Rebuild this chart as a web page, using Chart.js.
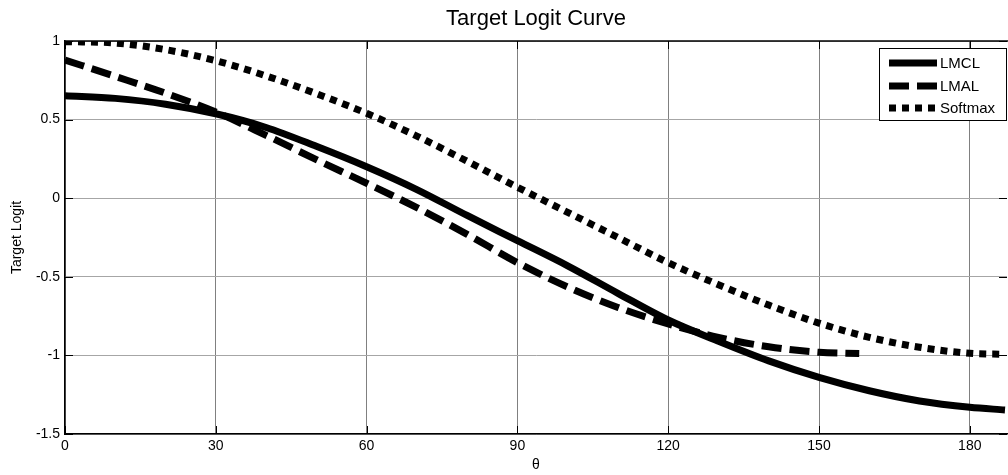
<!DOCTYPE html>
<html>
<head>
<meta charset="utf-8">
<script src="https://cdn.jsdelivr.net/npm/chart.js@4.4.1/dist/chart.umd.min.js"></script>
<style>
  html, body { margin: 0; padding: 0; background: #fff; }
  #wrap { width: 1008px; height: 475px; }
</style>
</head>
<body>
<div id="wrap"><canvas id="chart" width="1008" height="475"></canvas></div>
<script>
// values
const thetaMain = [0, 10, 20, 30, 40, 50, 60, 70, 80, 90, 100, 110, 120, 130, 140, 150, 160, 170, 180, 187];
const lmclValues = [0.652, 0.635, 0.598, 0.537, 0.45, 0.33, 0.2, 0.055, -0.11, -0.27, -0.43, -0.605, -0.775, -0.91, -1.035, -1.14, -1.225, -1.29, -1.33, -1.347];
const softmaxValues = [0.996, 0.987, 0.945, 0.875, 0.778, 0.665, 0.54, 0.395, 0.235, 0.07, -0.09, -0.25, -0.41, -0.55, -0.68, -0.795, -0.885, -0.948, -0.987, -0.993];
const thetaLmal = [0, 10, 20, 30, 40, 50, 60, 70, 80, 90, 100, 110, 120, 130, 140, 150, 158];
const lmalValues = [0.879, 0.775, 0.668, 0.548, 0.4, 0.245, 0.095, -0.06, -0.23, -0.41, -0.565, -0.695, -0.8, -0.885, -0.945, -0.98, -0.988];

const xTicks = [0, 30, 60, 90, 120, 150, 180];
const yTicks = [-1.5, -1, -0.5, 0, 0.5, 1];

const FONT = 'Liberation Sans, Arial, Helvetica, sans-serif';

function points(xs, ys) {
  return xs.map((x, i) => ({ x: x, y: ys[i] }));
}

const framePlugin = {
  id: 'frame',
  afterDraw(chart) {
    const { ctx, chartArea: a, scales: { x, y } } = chart;
    ctx.save();
    ctx.strokeStyle = '#000';
    ctx.lineWidth = 1.5;
    ctx.beginPath();
    ctx.moveTo(a.left, a.top);
    ctx.lineTo(chart.width, a.top);
    ctx.stroke();

    // inward tick marks
    ctx.lineWidth = 1;
    ctx.beginPath();
    x.ticks.forEach(t => {
      const px = Math.round(x.getPixelForValue(t.value)) + 0.5;
      ctx.moveTo(px, a.bottom); ctx.lineTo(px, a.bottom - 8);
      ctx.moveTo(px, a.top); ctx.lineTo(px, a.top + 8);
    });
    y.ticks.forEach(t => {
      const py = Math.round(y.getPixelForValue(t.value)) + 0.5;
      ctx.moveTo(a.left, py); ctx.lineTo(a.left + 8, py);
      ctx.moveTo(a.right, py); ctx.lineTo(a.right - 8, py);
    });
    ctx.stroke();

    // legend box
    const bx = 879, by = 48, bw = 127, bh = 72;
    ctx.fillStyle = '#fff';
    ctx.fillRect(bx, by, bw, bh);
    ctx.strokeRect(bx + 0.5, by + 0.5, bw, bh);
    const rows = [63, 86, 108];
    chart.data.datasets.forEach((ds, i) => {
      ctx.beginPath();
      ctx.lineWidth = ds.borderWidth;
      ctx.setLineDash(ds.borderDash || []);
      ctx.moveTo(889, rows[i]);
      ctx.lineTo(937, rows[i]);
      ctx.stroke();
      ctx.setLineDash([]);
      ctx.fillStyle = '#000';
      ctx.font = '15px ' + FONT;
      ctx.textBaseline = 'middle';
      ctx.fillText(ds.label, 940, rows[i] + 1);
    });
    ctx.restore();
  }
};

new Chart(document.getElementById('chart'), {
  type: 'line',
  data: {
    datasets: [
      {
        label: 'LMCL',
        data: points(thetaMain, lmclValues),
        borderColor: '#000',
        borderWidth: 7,
        pointRadius: 0,
        cubicInterpolationMode: 'monotone',
        clip: 0
      },
      {
        label: 'LMAL',
        data: points(thetaLmal, lmalValues),
        borderColor: '#000',
        borderWidth: 7,
        borderDash: [20, 8],
        pointRadius: 0,
        cubicInterpolationMode: 'monotone',
        clip: 0
      },
      {
        label: 'Softmax',
        data: points(thetaMain, softmaxValues),
        borderColor: '#000',
        borderWidth: 7,
        borderDash: [7, 6],
        pointRadius: 0,
        cubicInterpolationMode: 'monotone',
        clip: 0
      }
    ]
  },
  options: {
    responsive: false,
    animation: false,
    layout: { padding: { left: 0, right: 1, top: 0, bottom: 0 } },
    scales: {
      x: {
        type: 'linear',
        min: 0,
        max: 187.4,
        afterBuildTicks: s => { s.ticks = xTicks.map(v => ({ value: v })); },
        afterFit: s => { s.height = 41; },
        ticks: { color: '#000', padding: 4, font: { family: FONT, size: 14 }, includeBounds: false },
        grid: { color: '#808080', lineWidth: 1, drawTicks: false },
        border: { color: '#000', width: 1.5 },
        title: { display: true, text: 'θ', color: '#000', font: { family: FONT, size: 14 }, padding: { top: 0, bottom: 1 } }
      },
      y: {
        min: -1.5,
        max: 1,
        afterBuildTicks: s => { s.ticks = yTicks.map(v => ({ value: v })); },
        afterFit: s => { s.width = 65; },
        ticks: { color: '#000', padding: 5, font: { family: FONT, size: 14 }, callback: v => String(v) },
        grid: { color: '#a6a6a6', lineWidth: 1, drawTicks: false },
        border: { color: '#000', width: 1.5 },
        title: { display: true, text: 'Target Logit', color: '#000', font: { family: FONT, size: 14 }, padding: { top: 9, bottom: 0 } }
      }
    },
    plugins: {
      legend: { display: false },
      tooltip: { enabled: false },
      title: {
        display: true,
        text: 'Target Logit Curve',
        fullSize: false,
        color: '#000',
        font: { family: FONT, size: 22, weight: 'normal' },
        padding: { top: 6, bottom: 8.6 }
      }
    }
  },
  plugins: [framePlugin]
});
</script>
</body>
</html>
